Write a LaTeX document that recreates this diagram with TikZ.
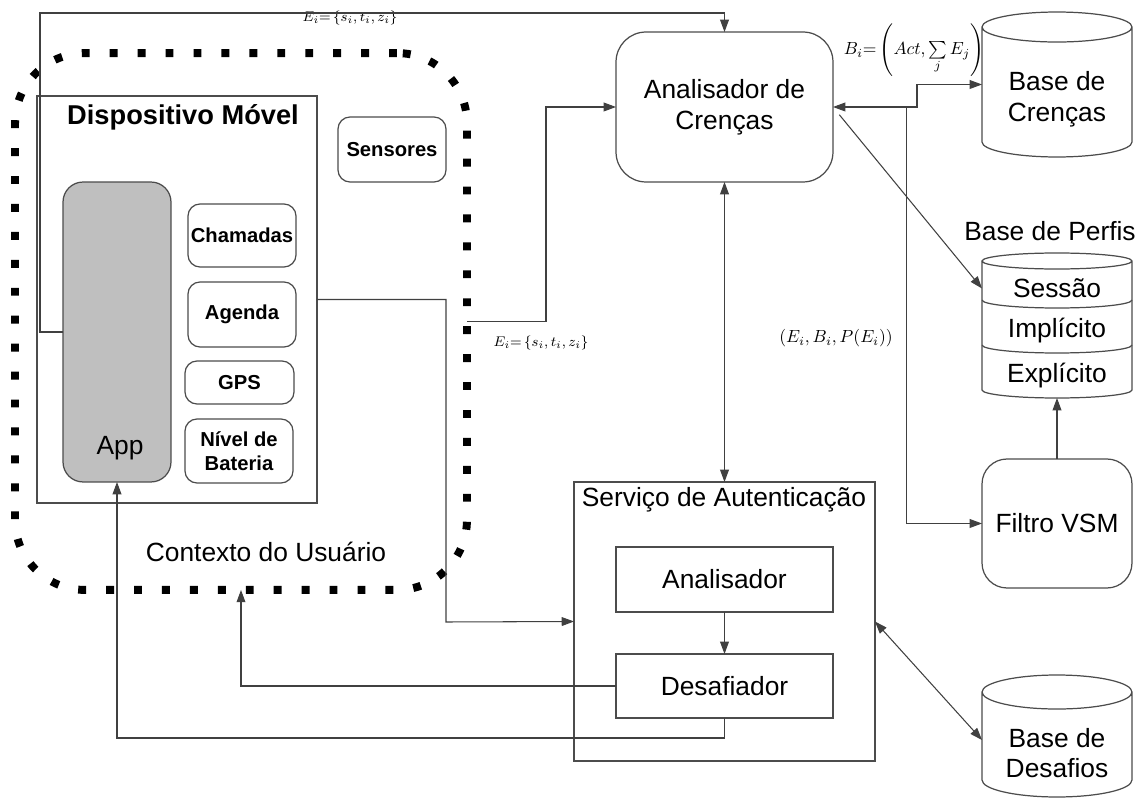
\documentclass[tikz,border=0pt]{standalone}
\usepackage{fontspec}
\setmainfont{Liberation Sans}
\usetikzlibrary{arrows.meta}

\newcommand\cylout[3]{%
  \draw[box] ([yshift=#3]#1.north west) -- ([yshift=#3]#2.south west)
    arc[start angle=180,end angle=360,x radius=1.5cm,y radius=#3]
    -- ([yshift=#3]#1.north east)
    arc[start angle=0,end angle=360,x radius=1.5cm,y radius=#3];}
\newcommand\cylsep[1]{%
  \draw[box] ([yshift=0.16cm]#1.south west)
    arc[start angle=180,end angle=360,x radius=1.5cm,y radius=0.16cm];}

\begin{document}
\begin{tikzpicture}[x=0.02cm,y=-0.02cm,
  every node/.style={inner sep=0pt,outer sep=0pt,align=center,
    font=\fontsize{15}{17.5}\selectfont},
  sz/.style 2 args={minimum width=#1cm,minimum height=#2cm},
  box/.style={draw=black!70,line width=0.7pt},
  rbox/.style={box,rounded corners=#1cm},
  bsm/.style={font=\bfseries\fontsize{11.5}{13.5}\selectfont},
  lbl/.style={font=\fontsize{#1}{#1}\selectfont},
  conn/.style={draw=black!75,line width=0.6pt},
  tri/.tip={Triangle[length=7pt,width=5pt]},
  arr/.style={conn,-tri},
  arrs/.style={conn,tri-tri},
  dots/.style={draw,line width=4.5pt,dash pattern=on 4.5pt off 11.4pt,
    rounded corners=1.4cm}]
  \useasboundingbox (0,0) rectangle (1137,800);

  \node[dots,sz={9.04}{10.74}] (contexto) at (241,321.5) {};
  \node (ctxlbl) at (266,552) {Contexto do Usuário};
  \node[box,sz={5.6}{8.14}] (disp) at (177,299.5) {};
  \node[font=\bfseries\fontsize{15.5}{18}\selectfont] (disptit) at (183,117) {Dispositivo Móvel};
  \node[rbox=0.4,sz={2.16}{6},fill=black!25] (app) at (117,332) {};
  \node (applbl) at (120,448) {App};
  \node[rbox=0.24,sz={2.16}{1.3},bsm] (sensores) at (392,149.5) {Sensores};
  \node[rbox=0.24,sz={2.16}{1.26},bsm] (chamadas) at (242,235.5) {Chamadas};
  \node[rbox=0.24,sz={2.16}{1.3},bsm] (agenda) at (242,314.5) {Agenda};
  \node[rbox=0.24,sz={2.18}{0.86},bsm] (gps) at (239.5,382.5) {GPS};
  \node[rbox=0.24,sz={2.16}{1.28},bsm] (bateria) at (239,451) {Nível de\\Bateria};

  \node[rbox=0.6,sz={4.34}{3.0}] (acrencas) at (724.5,107) {Analisador de\\Crenças};
  \node[box,sz={6.02}{5.58}] (servico) at (724.5,621.5) {};
  \node (servtit) at (724,500) {Serviço de Autenticação};
  \node[box,sz={4.34}{1.3}] (analisador) at (724.5,579.5) {Analisador};
  \node[box,sz={4.34}{1.28}] (desafiador) at (724.5,686) {Desafiador};

  \node[sz={3}{2.3}] (bcrencas) at (1057,99.5) {Base de\\Crenças};
  \node (perftit) at (1050,231) {Base de Perfis};
  \node[sz={3}{0.78}] (sessao) at (1057,288.5) {Sessão};
  \node[sz={3}{0.9}] (implicito) at (1057,330.5) {Implícito};
  \node[sz={3}{0.9}] (explicito) at (1057,375.5) {Explícito};
  \node[rbox=0.5,sz={3}{2.58}] (filtro) at (1057,523.5) {Filtro VSM};
  \node[sz={3}{1.76}] (bdesafios) at (1057,753) {Base de\\Desafios};
  \cylout{bcrencas}{bcrencas}{0.3cm}
  \cylout{sessao}{explicito}{0.16cm}
  \cylsep{sessao}
  \cylsep{implicito}
  \cylout{bdesafios}{bdesafios}{0.34cm}

  \node[lbl=8] (etop) at (350,18) {$E_i{=}\left\{s_i,t_i,z_i\right\}$};
  \node[lbl=8] (emid) at (541,343) {$E_i{=}\left\{s_i,t_i,z_i\right\}$};
  \node[lbl=10] (blbl) at (914,50) {$B_i{=}\left(Act,\sum\limits_j E_j\right)$};
  \node[lbl=10] (plbl) at (836,338) {$(E_i,B_i,P(E_i))$};

  \draw[arr] (app.west) -| (40,13) -| (acrencas.north);
  \draw[arr] (disp.east) -| (446,622) -- (servico.west);
  \draw[arr] (contexto.east) -| (546,107) -- (acrencas.west);
  \draw[arrs] (acrencas.south) -- (servico.north);
  \draw[arr] (analisador) -- (desafiador);
  \draw[arr] (desafiador.west) -| (contexto.south);
  \draw[arr] (desafiador.south) -- ++(0,20) -| (app.south);
  \draw[arrs] (acrencas.east) -- ++(84,0) |- ([yshift=0.3cm]bcrencas.west);
  \draw[arr] ([xshift=1.48cm]acrencas.east) |- (filtro.west);
  \draw[arr,shorten <=0.2cm] (acrencas.east) -- (sessao.west);
  \draw[arr] (filtro) -- (explicito);
  \draw[arrs] (servico.east) -- ([yshift=0.26cm]bdesafios.west);
\end{tikzpicture}
\end{document}
